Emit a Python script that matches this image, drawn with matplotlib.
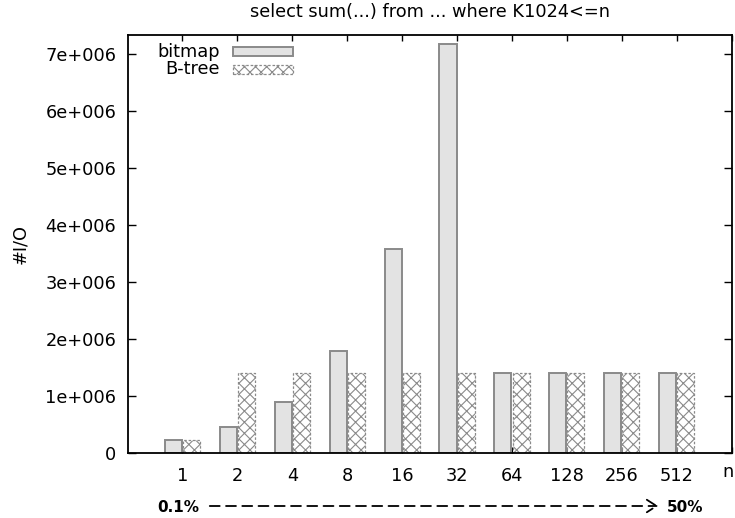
import matplotlib
matplotlib.use("Agg")
import matplotlib.pyplot as plt
from matplotlib.patches import Rectangle, FancyArrowPatch
import numpy as np

categories = ['1', '2', '4', '8', '16', '32', '64', '128', '256', '512']
bitmap = [0.224e6, 0.448e6, 0.896e6, 1.79e6, 3.58e6, 7.18e6, 1.40e6, 1.40e6, 1.40e6, 1.40e6]
btree = [0.224e6, 1.40e6, 1.40e6, 1.40e6, 1.40e6, 1.40e6, 1.40e6, 1.40e6, 1.40e6, 1.40e6]
ytick_vals = [0, 1e6, 2e6, 3e6, 4e6, 5e6, 6e6, 7e6]
ytick_labels = ['0', '1e+006', '2e+006', '3e+006', '4e+006', '5e+006', '6e+006', '7e+006']
title = 'select sum(...) from ... where K1024<=n'

plt.rcParams['font.family'] = ['DejaVu Sans']
plt.rcParams['hatch.linewidth'] = 0.8
plt.rcParams['hatch.color'] = '#858585'

fig = plt.figure(figsize=(7.35, 5.18), dpi=100)
W, H = 735, 518
AX_L, AX_R, AX_T, AX_B = 127.5, 731.7, 35, 453
ax = fig.add_axes([AX_L / W, 1 - AX_B / H, (AX_R - AX_L) / W, (AX_B - AX_T) / H])

x = np.arange(1, len(categories) + 1)
bw = 0.31
off = 0.165
ax.bar(x - off, bitmap, width=bw, color='#e3e3e3', edgecolor='#8a8a8a', linewidth=1.4, zorder=2)
ax.bar(x + off, btree, width=bw, color='white', edgecolor='#8a8a8a', linewidth=0.9,
       linestyle=(0, (2, 1.5)), hatch='xxx', zorder=2)

ax.set_xlim(0, 11)
ax.set_ylim(0, 7.33e6)
ax.set_xticks(list(x) + [11])
ax.set_xticklabels(categories + [''], fontsize=12.8)
ax.set_yticks(ytick_vals)
ax.set_yticklabels(ytick_labels, fontsize=12.8)
ax.tick_params(axis='both', direction='in', top=True, right=True, length=6, width=1, pad=8, colors='black')
ax.tick_params(axis='x', length=4, pad=10)
for s in ax.spines.values():
    s.set_linewidth(1.3)
ax.set_ylabel('#I/O', fontsize=12.8, labelpad=12)
ax.set_title(title, fontsize=12.8, pad=13)

# 'n' label at the right end of the x axis (shifted so it stays inside the image)
fig.text(728 / W, 1 - 472 / H, 'n', fontsize=12.8, ha='center', va='center')

# legend (manual, gnuplot style)
fs = 12.8
tr = ax.transAxes
def px2ax(px, py):
    return ((px - AX_L) / (AX_R - AX_L), (AX_B - py) / (AX_B - AX_T))
lx, ly = px2ax(220, 51.7)
ax.text(lx, ly, 'bitmap', transform=tr, ha='right', va='center', fontsize=fs)
lx2, ly2 = px2ax(220, 69.3)
ax.text(lx2, ly2, 'B-tree', transform=tr, ha='right', va='center', fontsize=fs)
r0x, r0y = px2ax(233, 56)
r1x, r1y = px2ax(293, 47.3)
ax.add_patch(Rectangle((r0x, r0y), r1x - r0x, r1y - r0y, transform=tr, facecolor='#e3e3e3',
                       edgecolor='#8a8a8a', linewidth=1.4, clip_on=False))
r2x, r2y = px2ax(233, 73.7)
r3x, r3y = px2ax(293, 65)
ax.add_patch(Rectangle((r2x, r2y), r3x - r2x, r3y - r2y, transform=tr, facecolor='white',
                       edgecolor='#8a8a8a', linewidth=0.9, linestyle=(0, (2, 1.5)), hatch='xxx',
                       clip_on=False))

# bottom annotation
bf = ['DejaVu Sans']
fig.text(157 / W, 1 - 507 / H, '0.1%', fontsize=11, fontweight='bold', family=bf, ha='left', va='center')
fig.text(667 / W, 1 - 507 / H, '50%', fontsize=11, fontweight='bold', family=bf, ha='left', va='center')
fig.add_artist(FancyArrowPatch(
    (207 / W, 1 - 506 / H), (661 / W, 1 - 506 / H), transform=fig.transFigure,
    arrowstyle='->,head_length=7,head_width=4.5', linestyle=(0, (5.5, 3.5)), linewidth=1.3,
    color='black', mutation_scale=1))

fig.savefig('out.png', dpi=100)
